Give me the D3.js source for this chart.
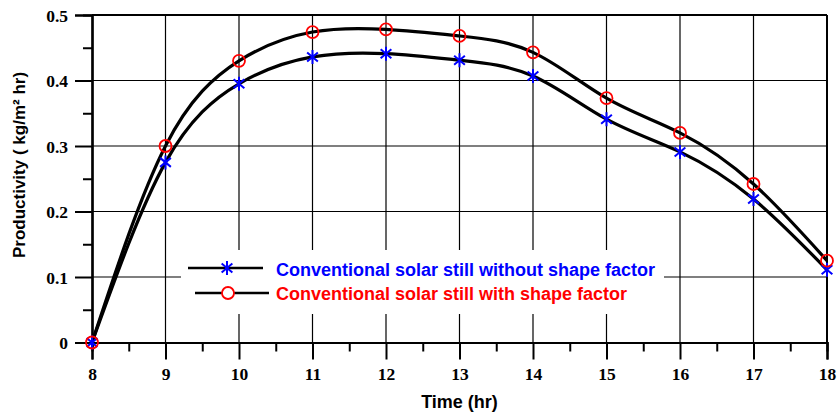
<!DOCTYPE html>
<html>
<head>
<meta charset="utf-8">
<script src="https://cdn.jsdelivr.net/npm/d3@7"></script>
<style>
  html, body { margin: 0; padding: 0; background: #fff; }
  svg { display: block; }
</style>
</head>
<body>
<svg id="chart" width="838" height="416"></svg>
<script>
// ---- data ----
const hours = [8, 9, 10, 11, 12, 13, 14, 15, 16, 17, 18];
const withoutShape = [0, 0.275, 0.395, 0.436, 0.441, 0.431, 0.407, 0.341, 0.291, 0.219, 0.111];
const withShape = [0, 0.300, 0.430, 0.474, 0.478, 0.468, 0.443, 0.373, 0.320, 0.242, 0.125];
const xTicks = [8, 9, 10, 11, 12, 13, 14, 15, 16, 17, 18];
const yTicks = [0, 0.1, 0.2, 0.3, 0.4, 0.5];
const yTickLabels = ["0", "0.1", "0.2", "0.3", "0.4", "0.5"];
const legendLabels = ["Conventional solar still without shape factor", "Conventional solar still with shape factor"];

// ---- layout ----
const svg = d3.select("#chart");
const pL = 92, pR = 827, pT = 15, pB = 342.5;
const x = d3.scaleLinear().domain([8, 18]).range([pL, pR]);
const y = d3.scaleLinear().domain([0, 0.5]).range([pB, pT]);

const serif = "'Liberation Serif', 'Times New Roman', serif";
const sans = "'Liberation Sans', Arial, sans-serif";

// gridlines
const grid = svg.append("g").attr("stroke", "#000").attr("stroke-width", 1.2);
xTicks.slice(1, -1).forEach(t => {
  grid.append("line").attr("x1", x(t)).attr("x2", x(t)).attr("y1", pT).attr("y2", pB);
});
yTicks.slice(1, -1).forEach(t => {
  grid.append("line").attr("x1", pL).attr("x2", pR).attr("y1", y(t)).attr("y2", y(t));
});
// frame top & right
svg.append("line").attr("x1", pL).attr("x2", pR).attr("y1", y(0.5)).attr("y2", y(0.5))
  .attr("stroke", "#000").attr("stroke-width", 2);
svg.append("line").attr("x1", x(18)).attr("x2", x(18)).attr("y1", pT).attr("y2", pB)
  .attr("stroke", "#000").attr("stroke-width", 2);

// axes with d3 axis generators
const xAxis = d3.axisBottom(x).tickValues(xTicks).tickSize(17).tickPadding(8).tickFormat(d3.format("d"));
const xMinor = d3.axisBottom(x).tickValues(d3.range(8.5, 18, 1)).tickSize(9).tickFormat("");
const yAxis = d3.axisLeft(y).tickValues(yTicks).tickSize(17).tickPadding(7).tickFormat((d, i) => yTickLabels[i]);
const yMinor = d3.axisLeft(y).tickValues(d3.range(0.05, 0.5, 0.1)).tickSize(9).tickFormat("");

function styleAxis(g) {
  g.select(".domain").attr("stroke", "#000").attr("stroke-width", 2.2);
  g.selectAll(".tick line").attr("stroke", "#000").attr("stroke-width", 2);
  g.selectAll(".tick text").attr("fill", "#000").style("font-family", serif)
    .style("font-weight", "bold").style("font-size", "17.5px");
}
const gxm = svg.append("g").attr("transform", `translate(0,${pB})`).call(xMinor);
styleAxis(gxm);
const gym = svg.append("g").attr("transform", `translate(${pL},0)`).call(yMinor);
styleAxis(gym);
const gx = svg.append("g").attr("transform", `translate(0,${pB})`).call(xAxis);
styleAxis(gx);
const gy = svg.append("g").attr("transform", `translate(${pL},0)`).call(yAxis);
styleAxis(gy);
gy.selectAll(".tick text").attr("dy", "0.35em");

// legend background (covers gridlines)
svg.append("rect").attr("x", 181).attr("y", 250).attr("width", 483).attr("height", 64).attr("fill", "#fff");

// curves
const line = d3.line().x((d, i) => x(hours[i])).y(d => y(d)).curve(d3.curveNatural);
[withoutShape, withShape].forEach(s => {
  svg.append("path").attr("d", line(s)).attr("fill", "none").attr("stroke", "#000").attr("stroke-width", 3.2);
});

// markers
function star(g, cx, cy, r) {
  const a = 40 * Math.PI / 180;
  const dx = r * Math.cos(a), dy = r * Math.sin(a);
  const p = `M${cx},${cy - r}L${cx},${cy + r}M${cx - dx},${cy - dy}L${cx + dx},${cy + dy}M${cx - dx},${cy + dy}L${cx + dx},${cy - dy}`;
  g.append("path").attr("d", p).attr("stroke", "#0000ff").attr("stroke-width", 2).attr("fill", "none");
}
const mk = svg.append("g");
withoutShape.forEach((v, i) => star(mk, x(hours[i]), y(v), 7));
withShape.forEach((v, i) => {
  mk.append("circle").attr("cx", x(hours[i])).attr("cy", y(v)).attr("r", 6)
    .attr("fill", "none").attr("stroke", "#ff0000").attr("stroke-width", 1.8);
});

// legend
const leg = svg.append("g");
leg.append("line").attr("x1", 188).attr("x2", 263).attr("y1", 268).attr("y2", 268).attr("stroke", "#000").attr("stroke-width", 2.5);
star(leg, 227, 268, 7);
leg.append("text").attr("x", 276).attr("y", 276).text(legendLabels[0])
  .attr("fill", "#0000ff").style("font-family", sans).style("font-weight", "bold").style("font-size", "18px");
leg.append("line").attr("x1", 195).attr("x2", 269).attr("y1", 293).attr("y2", 293).attr("stroke", "#000").attr("stroke-width", 2.5);
leg.append("circle").attr("cx", 228).attr("cy", 293).attr("r", 6).attr("fill", "#fff").attr("stroke", "#ff0000").attr("stroke-width", 1.8);
leg.append("text").attr("x", 276).attr("y", 300).text(legendLabels[1])
  .attr("fill", "#ff0000").style("font-family", sans).style("font-weight", "bold").style("font-size", "18px");

// axis titles
svg.append("text").attr("x", 459.5).attr("y", 408).attr("text-anchor", "middle")
  .style("font-family", sans).style("font-weight", "bold").style("font-size", "18px").text("Time (hr)");
svg.append("text").attr("transform", "translate(25,165) rotate(-90)").attr("text-anchor", "middle")
  .style("font-family", sans).style("font-weight", "bold").style("font-size", "17px").text("Productivity ( kg/m² hr)");
</script>
</body>
</html>
